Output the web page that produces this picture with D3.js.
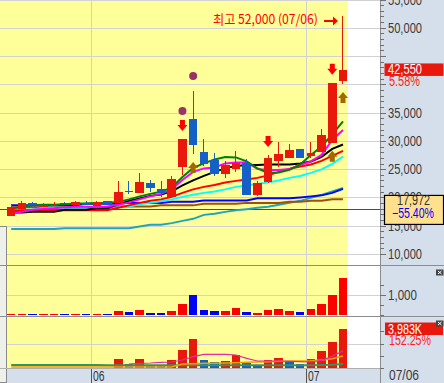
<!DOCTYPE html>
<html><head><meta charset="utf-8">
<script src="https://d3js.org/d3.v7.min.js"></script>
<style>html,body{margin:0;padding:0;background:#fff;overflow:hidden}svg{display:block}</style>
</head><body>
<svg id="chart" width="444" height="383"></svg>
<script>
// ---------------- data ----------------
const dates = ["05/20","05/21","05/22","05/25","05/26","05/27","05/28","05/29",
"06/01","06/02","06/03","06/04","06/05","06/08","06/09","06/10","06/11","06/12","06/15","06/16",
"06/17","06/18","06/19","06/22","06/23","06/24","06/25","06/26",
"07/01","07/02","07/03","07/06"];
const open  = [16780,18020,18970,18370,18400,18950,18600,19040,18500,19300,18970,21070,20850,22560,21550,20140,25330,33870,27990,26620,24150,25030,26150,20490,22790,26390,27030,28570,27380,27980,29680,40580];
const close = [18270,19080,18620,18720,18720,18780,19130,18700,19260,18840,21020,20930,22740,21730,20850,23320,30330,29270,25970,24200,25690,26040,20490,22500,26980,27680,28390,27030,27860,31040,40300,42550];
const high  = [18850,19380,19150,19000,19150,19200,19380,19300,19300,19300,22910,22930,24380,23090,22910,23800,30330,38820,30280,27810,26450,28210,26750,22910,27510,29800,29450,28570,29800,32100,40300,52000];
const low   = [16780,18020,18620,18370,18400,18780,18600,18700,18500,18840,18970,20650,20850,21020,20140,20140,23970,27680,25560,23800,23500,24450,20490,20260,22610,25440,27030,27030,26970,27980,29680,40050];

const maGreen   = [17980,18340,18600,18690,18690,18780,18950,18950,19040,19040,19220,19660,20190,20630,20990,21780,23630,25220,26020,26720,27170,27080,26370,25140,24340,24430,24870,25840,27520,29020,31140,33440];
const maMagenta = [17100,17450,17810,17980,18070,18250,18340,18340,18250,18420,18690,19130,19660,20190,20630,21430,23100,24520,25140,25310,26020,26190,26190,25050,24870,24870,25050,25750,26370,27520,30170,31930];
const maBlack   = [17360,17360,17450,17450,17450,17810,17810,17810,18070,18070,18780,19400,19840,20280,20540,21070,22130,23020,23810,24520,25140,25580,25750,25750,25840,25840,25840,26020,26370,27170,28580,29370];
const maRed     = [17630,17720,17720,17720,17720,17720,17720,17720,17720,17720,18180,18600,19040,19400,19660,20100,20810,21430,21870,22220,22660,22930,23190,23460,23900,24520,25050,25490,25840,26460,27340,28230];
const maCyan    = [17810,17810,17810,18160,18160,18160,18160,18160,18160,18160,18250,18420,18780,19040,19310,19660,20100,20460,20810,21070,21430,21870,22130,22400,22660,23020,23460,23810,24340,24960,25930,27250];
const maBlue    = [18600,18600,18600,18600,18600,18600,18600,18870,18870,18870,18870,19040,19040,19040,19040,19220,19220,19220,19480,19480,19480,19480,19480,19840,19840,19840,19840,20010,20190,20370,20810,21520];
const maBrown   = [18250,18250,18250,18250,18250,18250,18250,18250,18250,18250,18420,18420,18420,18420,18600,18600,18600,18600,18870,18870,18870,18870,19040,19040,19040,19040,19250,19250,19400,19400,19660,19660];
const maTeal    = [14400,14400,14400,14400,14400,14570,14570,14570,14570,14570,14570,14570,14860,15160,15160,15460,15860,16220,16920,17100,17450,17720,17930,18160,18340,18690,19040,19400,19930,20460,21070,21690];

const volume  = [60,60,45,60,60,45,60,45,60,45,200,150,250,100,100,200,550,1015,250,200,200,350,150,100,250,300,200,150,300,550,1015,1850];
const amount  = [50,50,40,50,50,40,50,40,50,40,919,409,919,204,187,817,1839,2962,817,613,715,1328,545,272,817,1022,715,409,919,1737,2656,3983];
const amtMaPink   = [null,null,null,null,null,null,null,null,null,null,null,409,477,511,579,613,817,1158,1396,1396,1396,1328,987,715,715,715,681,647,613,783,1192,1771];
const amtMaOrange = [100,100,100,100,100,100,100,100,100,100,100,100,100,100,100,100,409,443,477,477,511,545,579,613,647,681,715,715,749,817,953,1226];
const amtMaGreen  = [306,306,306,306,306,306,306,306,306,272,272,272,272,272,272,272,272,272,272,272,272,272,272,272,272,272,272,272,290,306,340,408];
const amtChangePct = 152.25;

const priceTicks = [10000,15000,20000,25000,30000,35000,40000,45000,50000,55000];
const volTicks = [1000];
const refLevel = 17972;
const sellIdx = [16,24,30];
const buyIdx = [17,30,31];
const dotIdx = [16,17];

// ---------------- layout ----------------
const W = 444, H = 383, AX = 380, PR = 348;
const svg = d3.select("#chart");
const fmt = d3.format(",");
const UP = "#e8190c", DN = "#1560c8";
const FONT = "'Liberation Sans', Arial, sans-serif";

const x = d3.scaleBand().domain(dates).range([5.85, 348.35]).paddingInner(0.2).paddingOuter(0.1);
const cx = i => x(dates[i]) + x.bandwidth() / 2;
const yP = d3.scaleLinear().domain([10000, 50000]).range([254, 27.8]);
const yV = d3.scaleLinear().domain([0, 1000]).range([315, 295]);
const yA = d3.scaleLinear().domain([0, 1000]).range([368, 358.21]);

// backgrounds
svg.append("rect").attr("width", W).attr("height", H).attr("fill", "#fff");
svg.append("rect").attr("x", AX).attr("y", 0).attr("width", W - AX).attr("height", H).attr("fill", "#d5dfeb");
svg.append("rect").attr("x", 0).attr("y", 368).attr("width", W).attr("height", 15).attr("fill", "#d5dfeb");
svg.append("rect").attr("x", 0).attr("y", 0).attr("width", PR).attr("height", 368).attr("fill", "#ffff99");

const grid = svg.append("g").attr("stroke", "#d2d2d2").attr("stroke-width", 1).attr("shape-rendering", "crispEdges");
priceTicks.forEach(t => {
  const yy = Math.round(yP(t)) + 0.5;
  if (yy > 0 && yy < 265) grid.append("line").attr("x1", 0).attr("x2", AX).attr("y1", yy).attr("y2", yy);
});
grid.append("line").attr("x1", 0).attr("x2", AX).attr("y1", 0.5).attr("y2", 0.5);
volTicks.forEach(t => {
  const yy = Math.round(yV(t)) + 0.5;
  grid.append("line").attr("x1", 0).attr("x2", AX).attr("y1", yy).attr("y2", yy);
});
grid.append("line").attr("x1", 0).attr("x2", AX).attr("y1", Math.round(yA(2500)) + 0.5).attr("y2", Math.round(yA(2500)) + 0.5);

// month boundaries
const monthStarts = dates.map((d, i) => i).filter(i => i > 0 && dates[i].slice(0, 2) !== dates[i - 1].slice(0, 2));
monthStarts.forEach(i => {
  const xx = Math.round(cx(i) - x.step() / 2) + 0.5;
  grid.append("line").attr("x1", xx).attr("x2", xx).attr("y1", 0).attr("y2", 368);
  svg.append("line").attr("x1", xx).attr("x2", xx).attr("y1", 368).attr("y2", 383).attr("stroke", "#555").attr("shape-rendering", "crispEdges");
  svg.append("text").attr("x", xx + 1.5).attr("y", 381).attr("font-family", FONT).attr("font-size", 14)
    .attr("fill", "#333").attr("textLength", 11.5).attr("lengthAdjust", "spacingAndGlyphs").text(dates[i].slice(0, 2));
});

// ---------------- price pane ----------------
svg.append("defs").append("clipPath").attr("id", "pclip").append("rect").attr("x", 0).attr("y", 0).attr("width", AX).attr("height", 265);
const pg = svg.append("g").attr("clip-path", "url(#pclip)");

pg.append("line").attr("x1", 0).attr("x2", AX).attr("y1", Math.round(yP(refLevel)) + 0.5).attr("y2", Math.round(yP(refLevel)) + 0.5)
  .attr("stroke", "#ff0000").attr("stroke-width", 1).attr("shape-rendering", "crispEdges");

const lineP = d3.line().x((v, i) => cx(i)).y(v => yP(v));
[[maTeal, "#1ea5b8"], [maBrown, "#a0500a"], [maBlue, "#0000ff"], [maCyan, "#00ffff"], [maRed, "#ff0000"],
 [maBlack, "#000000"], [maMagenta, "#ff00ff"], [maGreen, "#008000"]].forEach(([arr, col]) => {
  pg.append("path").attr("d", lineP(arr)).attr("fill", "none").attr("stroke", col).attr("stroke-width", 2);
});

// candles
const cg = pg.append("g").attr("shape-rendering", "crispEdges");
dates.forEach((d, i) => {
  const col = close[i] >= open[i] ? UP : DN;
  const wx = Math.floor(cx(i)) + 0.5;
  cg.append("line").attr("x1", wx).attr("x2", wx).attr("y1", yP(high[i])).attr("y2", yP(low[i])).attr("stroke", col).attr("stroke-width", 1);
  const top = yP(Math.max(open[i], close[i])), bot = yP(Math.min(open[i], close[i]));
  cg.append("rect").attr("x", x(d)).attr("y", top).attr("width", x.bandwidth()).attr("height", Math.max(1, bot - top)).attr("fill", col);
});

// signals
const downArrow = "M-2.5,0H2.5V5H5L0,11L-5,5H-2.5Z";
const upArrow = "M0,0L5,6H2.5V11H-2.5V6H-5Z";
const sellTop = {};
sellIdx.forEach(i => {
  const t = yP(high[i]) - 19; sellTop[i] = t;
  pg.append("path").attr("d", downArrow).attr("transform", `translate(${cx(i)},${t})`).attr("fill", "#ff0000");
});
buyIdx.forEach(i => {
  const t = yP(low[i]) + 8;
  pg.append("path").attr("d", upArrow).attr("transform", `translate(${cx(i)},${t})`).attr("fill", "#a06a00");
});
dotIdx.forEach(i => {
  const cy = sellTop[i] !== undefined ? sellTop[i] - 9 : yP(high[i]) - 15;
  pg.append("circle").attr("cx", cx(i)).attr("cy", cy).attr("r", 4).attr("fill", "#993366");
});

// highest annotation
const hiIdx = high.indexOf(d3.max(high));
const hx = cx(hiIdx), hy = yP(high[hiIdx]);
svg.append("text").attr("x", hx - 25).attr("y", hy + 8).attr("text-anchor", "end")
  .attr("font-family", "'Noto Sans CJK KR', sans-serif").attr("font-size", 13).attr("fill", "#ff0000")
  .attr("textLength", 105).attr("lengthAdjust", "spacingAndGlyphs")
  .text(`최고 ${fmt(high[hiIdx])} (${dates[hiIdx]})`);
svg.append("line").attr("x1", hx - 19).attr("x2", hx - 9).attr("y1", hy + 4.5).attr("y2", hy + 4.5).attr("stroke", "#ff0000").attr("stroke-width", 2);
svg.append("path").attr("d", `M${hx - 5},${hy + 4.5}L${hx - 10},${hy}L${hx - 10},${hy + 9}Z`).attr("fill", "#ff0000");

// ---------------- volume pane ----------------
const vg = svg.append("g").attr("shape-rendering", "crispEdges");
volume.forEach((v, i) => {
  vg.append("rect").attr("x", x(dates[i])).attr("y", yV(v)).attr("width", x.bandwidth()).attr("height", yV(0) - yV(v))
    .attr("fill", close[i] >= open[i] ? "#ff0000" : "#0000ff");
});

// ---------------- amount pane ----------------
const ag = svg.append("g").attr("shape-rendering", "crispEdges");
amount.forEach((v, i) => {
  const upc = i === 0 || v >= amount[i - 1];
  ag.append("rect").attr("x", x(dates[i])).attr("y", yA(v)).attr("width", x.bandwidth()).attr("height", yA(0) - yA(v))
    .attr("fill", upc ? UP : DN);
});
const lineA = d3.line().defined(v => v !== null).x((v, i) => cx(i)).y(v => yA(v));
svg.append("path").attr("d", lineA(amtMaGreen)).attr("fill", "none").attr("stroke", "#3a9160").attr("stroke-width", 2);
svg.append("path").attr("d", lineA(amtMaOrange)).attr("fill", "none").attr("stroke", "#f0a000").attr("stroke-width", 1.5);
svg.append("path").attr("d", lineA(amtMaPink)).attr("fill", "none").attr("stroke", "#e02aa8").attr("stroke-width", 1.2);

// left panel
svg.append("rect").attr("x", -1).attr("y", 226.5).attr("width", 7.5).attr("height", 156).attr("fill", "#eef1ea").attr("stroke", "#8a8a8a").attr("shape-rendering", "crispEdges");

// separators & axis line
const sep = svg.append("g").attr("stroke", "#8c8c8c").attr("shape-rendering", "crispEdges");
[265.5, 316.5].forEach(yy => sep.append("line").attr("x1", 0).attr("x2", W).attr("y1", yy).attr("y2", yy));
sep.append("line").attr("x1", 0).attr("x2", AX).attr("y1", 368.5).attr("y2", 368.5).attr("stroke", "#b0b0b0");
sep.append("line").attr("x1", AX + 0.5).attr("x2", AX + 0.5).attr("y1", 0).attr("y2", H);

// ---------------- right axis ----------------
const ax = svg.append("g").attr("stroke", "#707070").attr("shape-rendering", "crispEdges");
d3.range(10000, 56000, 1000).forEach(t => {
  const yy = Math.round(yP(t)) + 0.5;
  if (yy < 0 || yy > 265) return;
  ax.append("line").attr("x1", AX).attr("x2", AX + (t % 5000 === 0 ? 6 : 3.5)).attr("y1", yy).attr("y2", yy);
});
[0, 500, 1000, 1500].forEach(t => {
  const yy = Math.round(yV(t)) + 0.5;
  ax.append("line").attr("x1", AX).attr("x2", AX + (t === 1000 ? 6 : 3.5)).attr("y1", yy).attr("y2", yy);
});
[0, 1250, 2500, 3750].forEach(t => {
  const yy = Math.round(yA(t)) + 0.5;
  ax.append("line").attr("x1", AX).attr("x2", AX + 3.5).attr("y1", yy).attr("y2", yy);
});

function label(str, xx, yc, col, len, size) {
  return svg.append("text").attr("x", xx).attr("y", yc + 5).attr("font-family", FONT).attr("font-size", size || 14)
    .attr("fill", col).attr("textLength", len).attr("lengthAdjust", "spacingAndGlyphs").text(str);
}
const lastClose = close[close.length - 1], prevClose = close[close.length - 2];
priceTicks.forEach(t => {
  const yy = yP(t);
  if (Math.abs(yy - yP(lastClose)) < 18) return;
  label(fmt(t), 388, yy, "#3a3a3a", 34);
});
volTicks.forEach(t => label(fmt(t), 388, yV(t), "#3a3a3a", 29));
label(dates[dates.length - 1], 389, 375, "#3a3a3a", 30);

// last price box
const ly = yP(lastClose);
svg.append("rect").attr("x", 384.5).attr("y", ly - 6.5).attr("width", 59).attr("height", 12.5).attr("fill", UP);
label(fmt(lastClose), 388, ly - 0.5, "#ffffff", 34);
label(d3.format(".2f")((lastClose / prevClose - 1) * 100) + "%", 389, ly + 11, "#ff2020", 31);

// reference level box
const ry = yP(refLevel);
svg.append("rect").attr("x", 384.5).attr("y", ry - 13.5).attr("width", 59).attr("height", 29).attr("fill", "#ffe08c").attr("stroke", "#000").attr("stroke-width", 1.2);
label(fmt(refLevel), 397, ry - 8.5, "#333333", 33);
label(d3.format(".2f")((refLevel / prevClose - 1) * 100) + "%", 392, ry + 4, "#0000ff", 42);

// amount box
const lastAmt = amount[amount.length - 1];
svg.append("rect").attr("x", 385).attr("y", yA(lastAmt) - 6.5).attr("width", 58).attr("height", 12.5).attr("fill", UP);
label(fmt(lastAmt) + "K", 388, yA(lastAmt) - 0.5, "#ffffff", 34);
label(d3.format(".2f")(amtChangePct) + "%", 389, yA(lastAmt) + 11, "#ff2020", 42);

// close icons
[269.5, 320.5].forEach(yy => {
  svg.append("rect").attr("x", 436).attr("y", yy).attr("width", 7.5).attr("height", 6).attr("fill", "#444");
  svg.append("path").attr("d", `M438,${yy + 1.5}L441.5,${yy + 4.5}M441.5,${yy + 1.5}L438,${yy + 4.5}`).attr("stroke", "#fff").attr("stroke-width", 1);
});
</script>
</body></html>
